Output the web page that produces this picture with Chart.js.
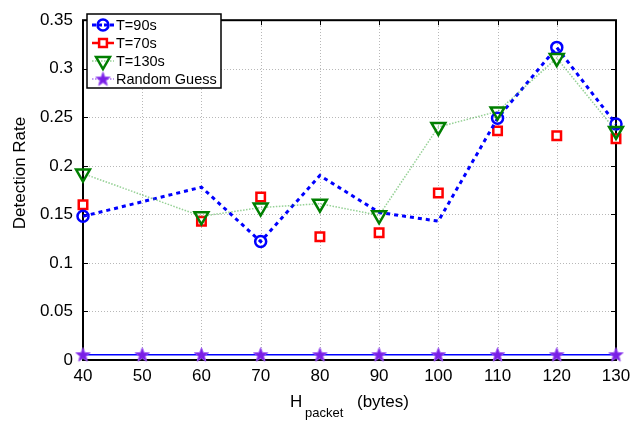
<!DOCTYPE html>
<html>
<head>
<meta charset="utf-8">
<script src="https://cdn.jsdelivr.net/npm/chart.js"></script>
<style>
  html, body { margin: 0; padding: 0; background: #fff; }
  #wrap { width: 641px; height: 424px; }
</style>
</head>
<body>
<div id="wrap"><canvas id="chart" width="641" height="424"></canvas></div>
<script>
// packet size (bytes) on x, detection rate on y
const xTicks = [40, 50, 60, 70, 80, 90, 100, 110, 120, 130];
const yTicks = [0, 0.05, 0.1, 0.15, 0.2, 0.25, 0.3, 0.35];
const yTickLabels = ['0', '0.05', '0.1', '0.15', '0.2', '0.25', '0.3', '0.35'];

const xT90 = [40, 60, 70, 80, 90, 100, 110, 120, 130];
const yT90 = [0.148, 0.178, 0.122, 0.19, 0.152, 0.143, 0.249, 0.322, 0.243];
const t90MarkedAt = [40, 70, 110, 120, 130];  // circles only drawn here

const xT70 = [40, 60, 70, 80, 90, 100, 110, 120, 130];
const yT70 = [0.160, 0.143, 0.168, 0.127, 0.131, 0.172, 0.236, 0.231, 0.228];

const xT130 = [40, 60, 70, 80, 90, 100, 110, 120, 130];
const yT130 = [0.192, 0.148, 0.157, 0.161, 0.149, 0.240, 0.256, 0.311, 0.236];

const xGuess = [40, 50, 60, 70, 80, 90, 100, 110, 120, 130];
const yGuess = [0.0055, 0.0055, 0.0055, 0.0055, 0.0055, 0.0055, 0.0055, 0.0055, 0.0055, 0.0055];

const seriesNames = ['T=90s', 'T=70s', 'T=130s', 'Random Guess'];

const FONT = '"Liberation Sans", Arial, sans-serif';

function pts(xs, ys) {
    return xs.map((x, i) => ({ x: x, y: ys[i] }));
}

// filled five point star used as marker
function makeStar(r) {
    const c = document.createElement('canvas');
    const s = Math.ceil(r * 2 + 4);
    c.width = s; c.height = s;
    const g = c.getContext('2d');
    g.translate(s / 2, s / 2 + 0.5);
    g.beginPath();
    for (let i = 0; i < 10; i++) {
        const rad = i % 2 === 0 ? r : r * 0.42;
        const a = -Math.PI / 2 + i * Math.PI / 5;
        g.lineTo(rad * Math.cos(a), rad * Math.sin(a));
    }
    g.closePath();
    g.fillStyle = '#7a1fe6';
    g.fill();
    g.strokeStyle = '#9b55f0';
    g.lineWidth = 1;
    g.stroke();
    return c;
}
const star = makeStar(7.5);

const blue = '#0000ff';
const red = '#ff0000';
const green = '#007f00';
const lightGreen = 'rgba(60, 170, 60, 0.55)';

// grid, box, inward ticks, legend and axis titles
const decor = {
    id: 'decor',
    beforeDatasetsDraw(chart) {
        const { ctx, chartArea: a, scales } = chart;
        ctx.save();
        // dotted grid
        ctx.strokeStyle = '#b8b8b8';
        ctx.lineWidth = 1;
        ctx.setLineDash([1, 2]);
        xTicks.forEach(v => {
            const px = Math.round(scales.x.getPixelForValue(v)) + 0.5;
            ctx.beginPath();
            ctx.moveTo(px, a.bottom); ctx.lineTo(px, a.top);
            ctx.stroke();
        });
        yTicks.forEach(v => {
            const py = Math.round(scales.y.getPixelForValue(v)) + 0.5;
            ctx.beginPath();
            ctx.moveTo(a.left, py); ctx.lineTo(a.right, py);
            ctx.stroke();
        });
        ctx.setLineDash([]);
        ctx.strokeStyle = '#000';
        xTicks.forEach(v => {
            const px = Math.round(scales.x.getPixelForValue(v)) + 0.5;
            ctx.beginPath();
            ctx.moveTo(px, a.bottom); ctx.lineTo(px, a.bottom - 5);
            ctx.moveTo(px, a.top); ctx.lineTo(px, a.top + 5);
            ctx.stroke();
        });
        yTicks.forEach(v => {
            const py = Math.round(scales.y.getPixelForValue(v)) + 0.5;
            ctx.beginPath();
            ctx.moveTo(a.left, py); ctx.lineTo(a.left + 5, py);
            ctx.moveTo(a.right, py); ctx.lineTo(a.right - 5, py);
            ctx.stroke();
        });
        ctx.lineWidth = 2;
        ctx.strokeRect(a.left, a.top, a.right - a.left, a.bottom - a.top);
        ctx.restore();
    },
    afterDatasetsDraw(chart) {
        const { ctx } = chart;
        ctx.save();
        // legend
        const lx = 87, ly = 14, lw = 134, lh = 74;
        ctx.fillStyle = '#fff';
        ctx.fillRect(lx, ly, lw, lh);
        ctx.strokeStyle = '#000';
        ctx.lineWidth = 1.5;
        ctx.strokeRect(lx, ly, lw, lh);
        const rows = [25, 43, 61, 79];
        chart.data.datasets.forEach((ds, i) => {
            const y = rows[i];
            ctx.save();
            ctx.strokeStyle = ds.legendLine;
            ctx.lineWidth = ds.legendWidth;
            ctx.setLineDash(ds.legendDash);
            ctx.beginPath();
            ctx.moveTo(92, y); ctx.lineTo(114, y);
            ctx.stroke();
            ctx.restore();
            ctx.save();
            ctx.strokeStyle = ds.pointBorderColor;
            ctx.fillStyle = ds.pointBackgroundColor;
            ctx.lineWidth = ds.pointBorderWidth;
            Chart.helpers.drawPoint(ctx, {
                pointStyle: ds.pointStyle,
                radius: ds.legendRadius,
                rotation: ds.pointRotation || 0,
                borderWidth: ds.pointBorderWidth
            }, 103, y);
            ctx.restore();
            ctx.fillStyle = '#000';
            ctx.font = '14.5px ' + FONT;
            ctx.textBaseline = 'middle';
            ctx.textAlign = 'left';
            ctx.fillText(ds.label, 116, y + 1);
        });
        // y title
        ctx.save();
        ctx.translate(25, 173);
        ctx.rotate(-Math.PI / 2);
        ctx.font = '17px ' + FONT;
        ctx.textAlign = 'center';
        ctx.textBaseline = 'alphabetic';
        ctx.fillStyle = '#000';
        ctx.fillText('Detection Rate', 0, 0);
        ctx.restore();
        // x title with subscript
        ctx.fillStyle = '#000';
        ctx.textAlign = 'left';
        ctx.textBaseline = 'alphabetic';
        ctx.font = '17px ' + FONT;
        ctx.fillText('H', 290, 407);
        ctx.font = '13px ' + FONT;
        ctx.fillText('packet', 305, 417);
        ctx.font = '17px ' + FONT;
        ctx.fillText('(bytes)', 357, 407);
        ctx.restore();
    }
};

const gridOpts = { display: false, drawTicks: false };

new Chart(document.getElementById('chart').getContext('2d'), {
    type: 'scatter',
    data: {
        datasets: [{
            label: seriesNames[0],
            data: pts(xT90, yT90),
            showLine: true,
            borderColor: blue,
            borderWidth: 3,
            borderDash: [4, 4],
            pointStyle: 'circle',
            pointRadius: ctx => (t90MarkedAt.includes(xT90[ctx.dataIndex]) ? 5.5 : 0),
            pointBorderColor: blue,
            pointBackgroundColor: 'rgba(255,255,255,0)',
            pointBorderWidth: 2.5,
            legendRadius: 5.5,
            legendLine: blue, legendWidth: 3, legendDash: [4, 2],
            clip: false,
            order: 1
        }, {
            label: seriesNames[1],
            data: pts(xT70, yT70),
            showLine: false,
            borderColor: red,
            pointStyle: 'rect',
            pointRadius: 6,
            pointBorderColor: red,
            pointBackgroundColor: '#fff',
            pointBorderWidth: 2.5,
            legendRadius: 5.5,
            legendLine: red, legendWidth: 2.5, legendDash: [],
            clip: false,
            order: 2
        }, {
            label: seriesNames[2],
            data: pts(xT130, yT130),
            showLine: true,
            borderColor: lightGreen,
            borderWidth: 1.5,
            borderDash: [1.5, 1.5],
            pointStyle: 'triangle',
            pointRotation: 180,
            pointRadius: 8,
            pointBorderColor: green,
            pointBackgroundColor: 'rgba(255,255,255,0)',
            pointBorderWidth: 2.5,
            legendRadius: 8,
            legendLine: lightGreen, legendWidth: 1.5, legendDash: [1.5, 1.5],
            clip: false,
            order: 0
        }, {
            label: seriesNames[3],
            data: pts(xGuess, yGuess),
            showLine: true,
            borderColor: blue,
            borderWidth: 1.5,
            pointStyle: star,
            pointRadius: 7.5,
            pointBorderColor: '#7a1fe6',
            pointBackgroundColor: '#7a1fe6',
            pointBorderWidth: 1,
            legendRadius: 7.5,
            legendLine: '#b07cf0', legendWidth: 1.5, legendDash: [1.5, 1.5],
            clip: false,
            order: 3
        }]
    },
    options: {
        responsive: false,
        animation: false,
        layout: { padding: { top: 12, right: 25, left: 0, bottom: 0 } },
        plugins: { legend: { display: false }, tooltip: { enabled: false } },
        scales: {
            x: {
                type: 'linear',
                min: 40, max: 130,
                afterFit: s => { s.height = 64; },
                afterBuildTicks: s => { s.ticks = xTicks.map(v => ({ value: v })); },
                grid: gridOpts,
                border: { display: false },
                ticks: {
                    padding: 6,
                    color: '#000',
                    font: { family: FONT, size: 17 },
                    callback: v => String(v)
                }
            },
            y: {
                min: 0, max: 0.35,
                afterFit: s => { s.width = 83; },
                afterBuildTicks: s => { s.ticks = yTicks.map(v => ({ value: v })); },
                grid: gridOpts,
                border: { display: false },
                ticks: {
                    padding: 10,
                    color: '#000',
                    font: { family: FONT, size: 17 },
                    callback: (v, i) => yTickLabels[i]
                }
            }
        }
    },
    plugins: [decor]
});
</script>
</body>
</html>
